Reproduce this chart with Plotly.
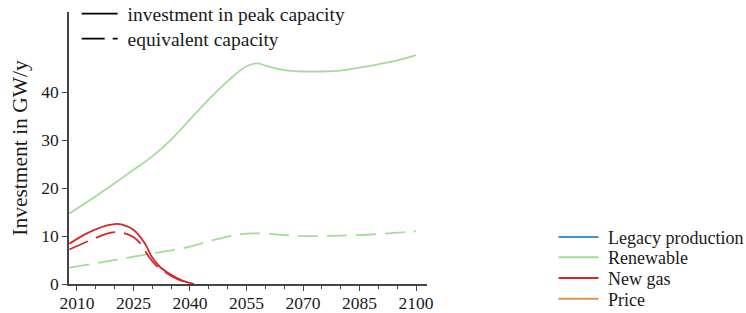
import plotly.graph_objects as go

# ---- data ----
ren_years = [2008, 2015, 2020, 2025, 2030, 2035, 2040, 2045, 2050, 2055, 2058, 2060, 2065, 2070, 2075, 2080, 2085, 2090, 2095, 2100]
ren_peak = [14.7, 18.3, 21.0, 23.8, 26.6, 30.1, 34.3, 38.5, 42.3, 45.4, 46.0, 45.5, 44.6, 44.3, 44.3, 44.5, 45.1, 45.8, 46.6, 47.7]
ren_eq_years = [2008, 2015, 2020, 2025, 2030, 2035, 2040, 2045, 2050, 2055, 2060, 2065, 2070, 2080, 2090, 2100]
ren_eq = [3.4, 4.3, 5.0, 5.7, 6.4, 7.0, 7.8, 8.9, 9.9, 10.5, 10.5, 10.2, 10.0, 10.1, 10.4, 11.0]

gas_years = [2008, 2012, 2015, 2018, 2020, 2022, 2025, 2028, 2030, 2032, 2035, 2038, 2041]
gas_peak = [8.4, 10.3, 11.4, 12.2, 12.5, 12.4, 11.3, 8.5, 5.5, 3.6, 1.9, 0.7, 0.0]
gas_eq_years = [2008, 2012, 2015, 2018, 2020, 2022, 2025, 2027, 2029, 2031, 2033, 2035, 2038, 2041]
gas_eq = [7.2, 8.6, 9.6, 10.5, 10.8, 10.7, 9.8, 8.3, 5.8, 3.9, 2.7, 1.7, 0.6, 0.0]

legend_names = ["Legacy production", "Renewable", "New gas", "Price"]
legend_colors = ["#3a93d3", "#a3dc99", "#d62728", "#e8914a"]
style_names = ["investment in peak capacity", "equivalent capacity"]

x_ticks = [2010, 2025, 2040, 2055, 2070, 2085, 2100]
y_ticks = [0, 10, 20, 30, 40]

GREEN = legend_colors[1]
RED = legend_colors[2]
DASH = "20px,9px"
FONT = "'Liberation Serif', 'DejaVu Serif', serif"
TXT = "#1a1a1a"
PAD = "\u00a0"  # small gap between legend line and its label

fig = go.Figure()

fig.add_trace(go.Scatter(x=ren_years, y=ren_peak, mode="lines", showlegend=False,
                         line=dict(color=GREEN, width=1.8, shape="spline")))
fig.add_trace(go.Scatter(x=ren_eq_years, y=ren_eq, mode="lines", showlegend=False,
                         line=dict(color=GREEN, width=1.8, shape="spline", dash=DASH)))
fig.add_trace(go.Scatter(x=gas_years, y=gas_peak, mode="lines", showlegend=False,
                         line=dict(color=RED, width=1.8, shape="spline")))
fig.add_trace(go.Scatter(x=gas_eq_years, y=gas_eq, mode="lines", showlegend=False,
                         line=dict(color=RED, width=1.8, shape="spline", dash=DASH)))

legend_layout = {}

# colour legend (bottom right): one legend box per entry for exact spacing
bottom_rows = [0.172, 0.097, 0.021, -0.055]
for i, (name, col) in enumerate(zip(legend_names, legend_colors)):
    key = "legend" if i == 0 else f"legend{i + 1}"
    fig.add_trace(go.Scatter(x=[None], y=[None], mode="lines", name=PAD + name,
                             line=dict(color=col, width=2), legend=key))
    legend_layout[key] = dict(x=1.3534, y=bottom_rows[i], xanchor="left", yanchor="middle",
                              bgcolor="rgba(0,0,0,0)", itemwidth=40,
                              font=dict(family=FONT, size=18, color=TXT))

# style legend (top left)
top_rows = [0.993, 0.901]
for i, (name, dash) in enumerate(zip(style_names, ["solid", "23px,8px"])):
    key = f"legend{i + 5}"
    fig.add_trace(go.Scatter(x=[None], y=[None], mode="lines", name=PAD + name,
                             line=dict(color="black", width=1.8, dash=dash), legend=key))
    legend_layout[key] = dict(x=0.0215, y=top_rows[i], xanchor="left", yanchor="middle",
                              bgcolor="rgba(0,0,0,0)", itemwidth=36,
                              font=dict(family=FONT, size=19.5, color=TXT))

axis_common = dict(showline=True, linecolor="#444", linewidth=1.5, ticks="outside",
                   tickcolor="#444", ticklen=5, tickwidth=1.3, showgrid=False, zeroline=False,
                   tickfont=dict(family=FONT, size=17.5, color=TXT))

fig.update_layout(
    width=746, height=313,
    margin=dict(l=69, r=319, t=12, b=29, autoexpand=False),
    plot_bgcolor="white", paper_bgcolor="white",
    font=dict(family=FONT, size=17, color=TXT),
    xaxis=dict(range=[2007.9, 2102.9], tickvals=x_ticks, ticktext=[str(v) for v in x_ticks],
               minor=dict(dtick=5, tick0=2010, ticks="outside", ticklen=3, tickcolor="#444"),
               ticklabelstandoff=-3,
               **axis_common),
    yaxis=dict(range=[0, 56.7], tickvals=y_ticks, ticktext=[str(v) for v in y_ticks],
               title=dict(text="Investment in GW/y", font=dict(family=FONT, size=21.5, color=TXT), standoff=8),
               **axis_common),
    **legend_layout,
)

fig.write_html("out.html", config={"displayModeBar": False},
               post_script="document.body.style.margin='0px';")
